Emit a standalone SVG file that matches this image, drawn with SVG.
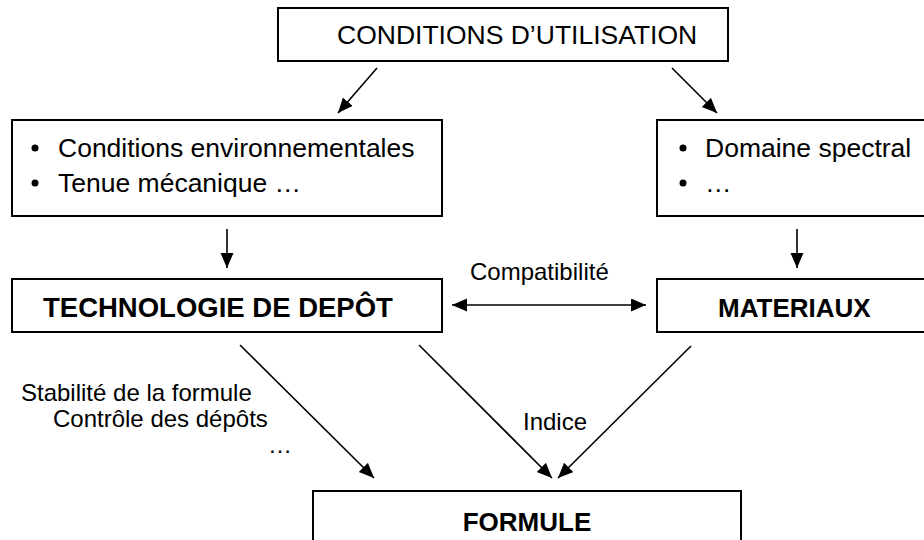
<svg xmlns="http://www.w3.org/2000/svg" width="924" height="540" viewBox="0 0 924 540">
<style>
.box{fill:#fff;stroke:#000;stroke-width:2}
.t{font-family:"Liberation Sans",Arial,sans-serif;font-size:26.5px;fill:#000}
.b{font-weight:bold;font-size:26px}
.l{font-family:"Liberation Sans",Arial,sans-serif;font-size:24px;fill:#000}
.c{stroke:#000;stroke-width:1.6;fill:none}
</style>
<defs>
<marker id="ah" markerUnits="userSpaceOnUse" markerWidth="17" markerHeight="15" refX="15" refY="6.5" orient="auto-start-reverse">
<path d="M0,0 L15,6.5 L0,13 Z" fill="#000"/>
</marker>
</defs>
<g id="conditions">
<rect class="box" x="278" y="8" width="450" height="53"/>
<text class="t" x="337" y="44">CONDITIONS D’UTILISATION</text>
</g>
<g id="env">
<rect class="box" x="12" y="120" width="430" height="96"/>
<circle cx="35" cy="148" r="3.5"/>
<text class="t" x="58" y="157">Conditions environnementales</text>
<circle cx="35" cy="183" r="3.5"/>
<text class="t" x="58" y="192">Tenue mécanique …</text>
</g>
<g id="spectral">
<rect class="box" x="657" y="120" width="280" height="96"/>
<circle cx="683" cy="148" r="3.5"/>
<text class="t" x="705" y="157">Domaine spectral</text>
<circle cx="683" cy="183" r="3.5"/>
<text class="t" x="705" y="192">…</text>
</g>
<g id="technologie">
<rect class="box" x="12" y="279" width="430" height="53"/>
<text class="t b" x="43" y="317" style="font-size:27.5px">TECHNOLOGIE DE DEPÔT</text>
</g>
<g id="materiaux">
<rect class="box" x="657" y="279" width="280" height="53"/>
<text class="t b" x="718" y="317">MATERIAUX</text>
</g>
<g id="formule">
<rect class="box" x="313" y="491" width="428" height="60"/>
<text class="t b" x="527" y="531" text-anchor="middle">FORMULE</text>
</g>
<g id="connectors">
<line class="c" x1="377" y1="68" x2="338" y2="113" marker-end="url(#ah)"/>
<line class="c" x1="672" y1="68" x2="717" y2="113" marker-end="url(#ah)"/>
<line class="c" x1="227" y1="229" x2="227" y2="268" marker-end="url(#ah)"/>
<line class="c" x1="797" y1="229" x2="797" y2="268" marker-end="url(#ah)"/>
<line class="c" x1="452" y1="305" x2="646" y2="305" marker-start="url(#ah)" marker-end="url(#ah)"/>
<line class="c" x1="240" y1="345" x2="374" y2="478" marker-end="url(#ah)"/>
<line class="c" x1="419" y1="345" x2="552" y2="478" marker-end="url(#ah)"/>
<line class="c" x1="691" y1="346" x2="558" y2="478" marker-end="url(#ah)"/>
</g>
<g id="labels">
<text class="l" x="470" y="280">Compatibilité</text>
<text class="l" x="21" y="401">Stabilité de la formule</text>
<text class="l" x="53" y="427">Contrôle des dépôts</text>
<text class="l" x="268" y="453">…</text>
<text class="l" x="523" y="430">Indice</text>
</g>
</svg>
